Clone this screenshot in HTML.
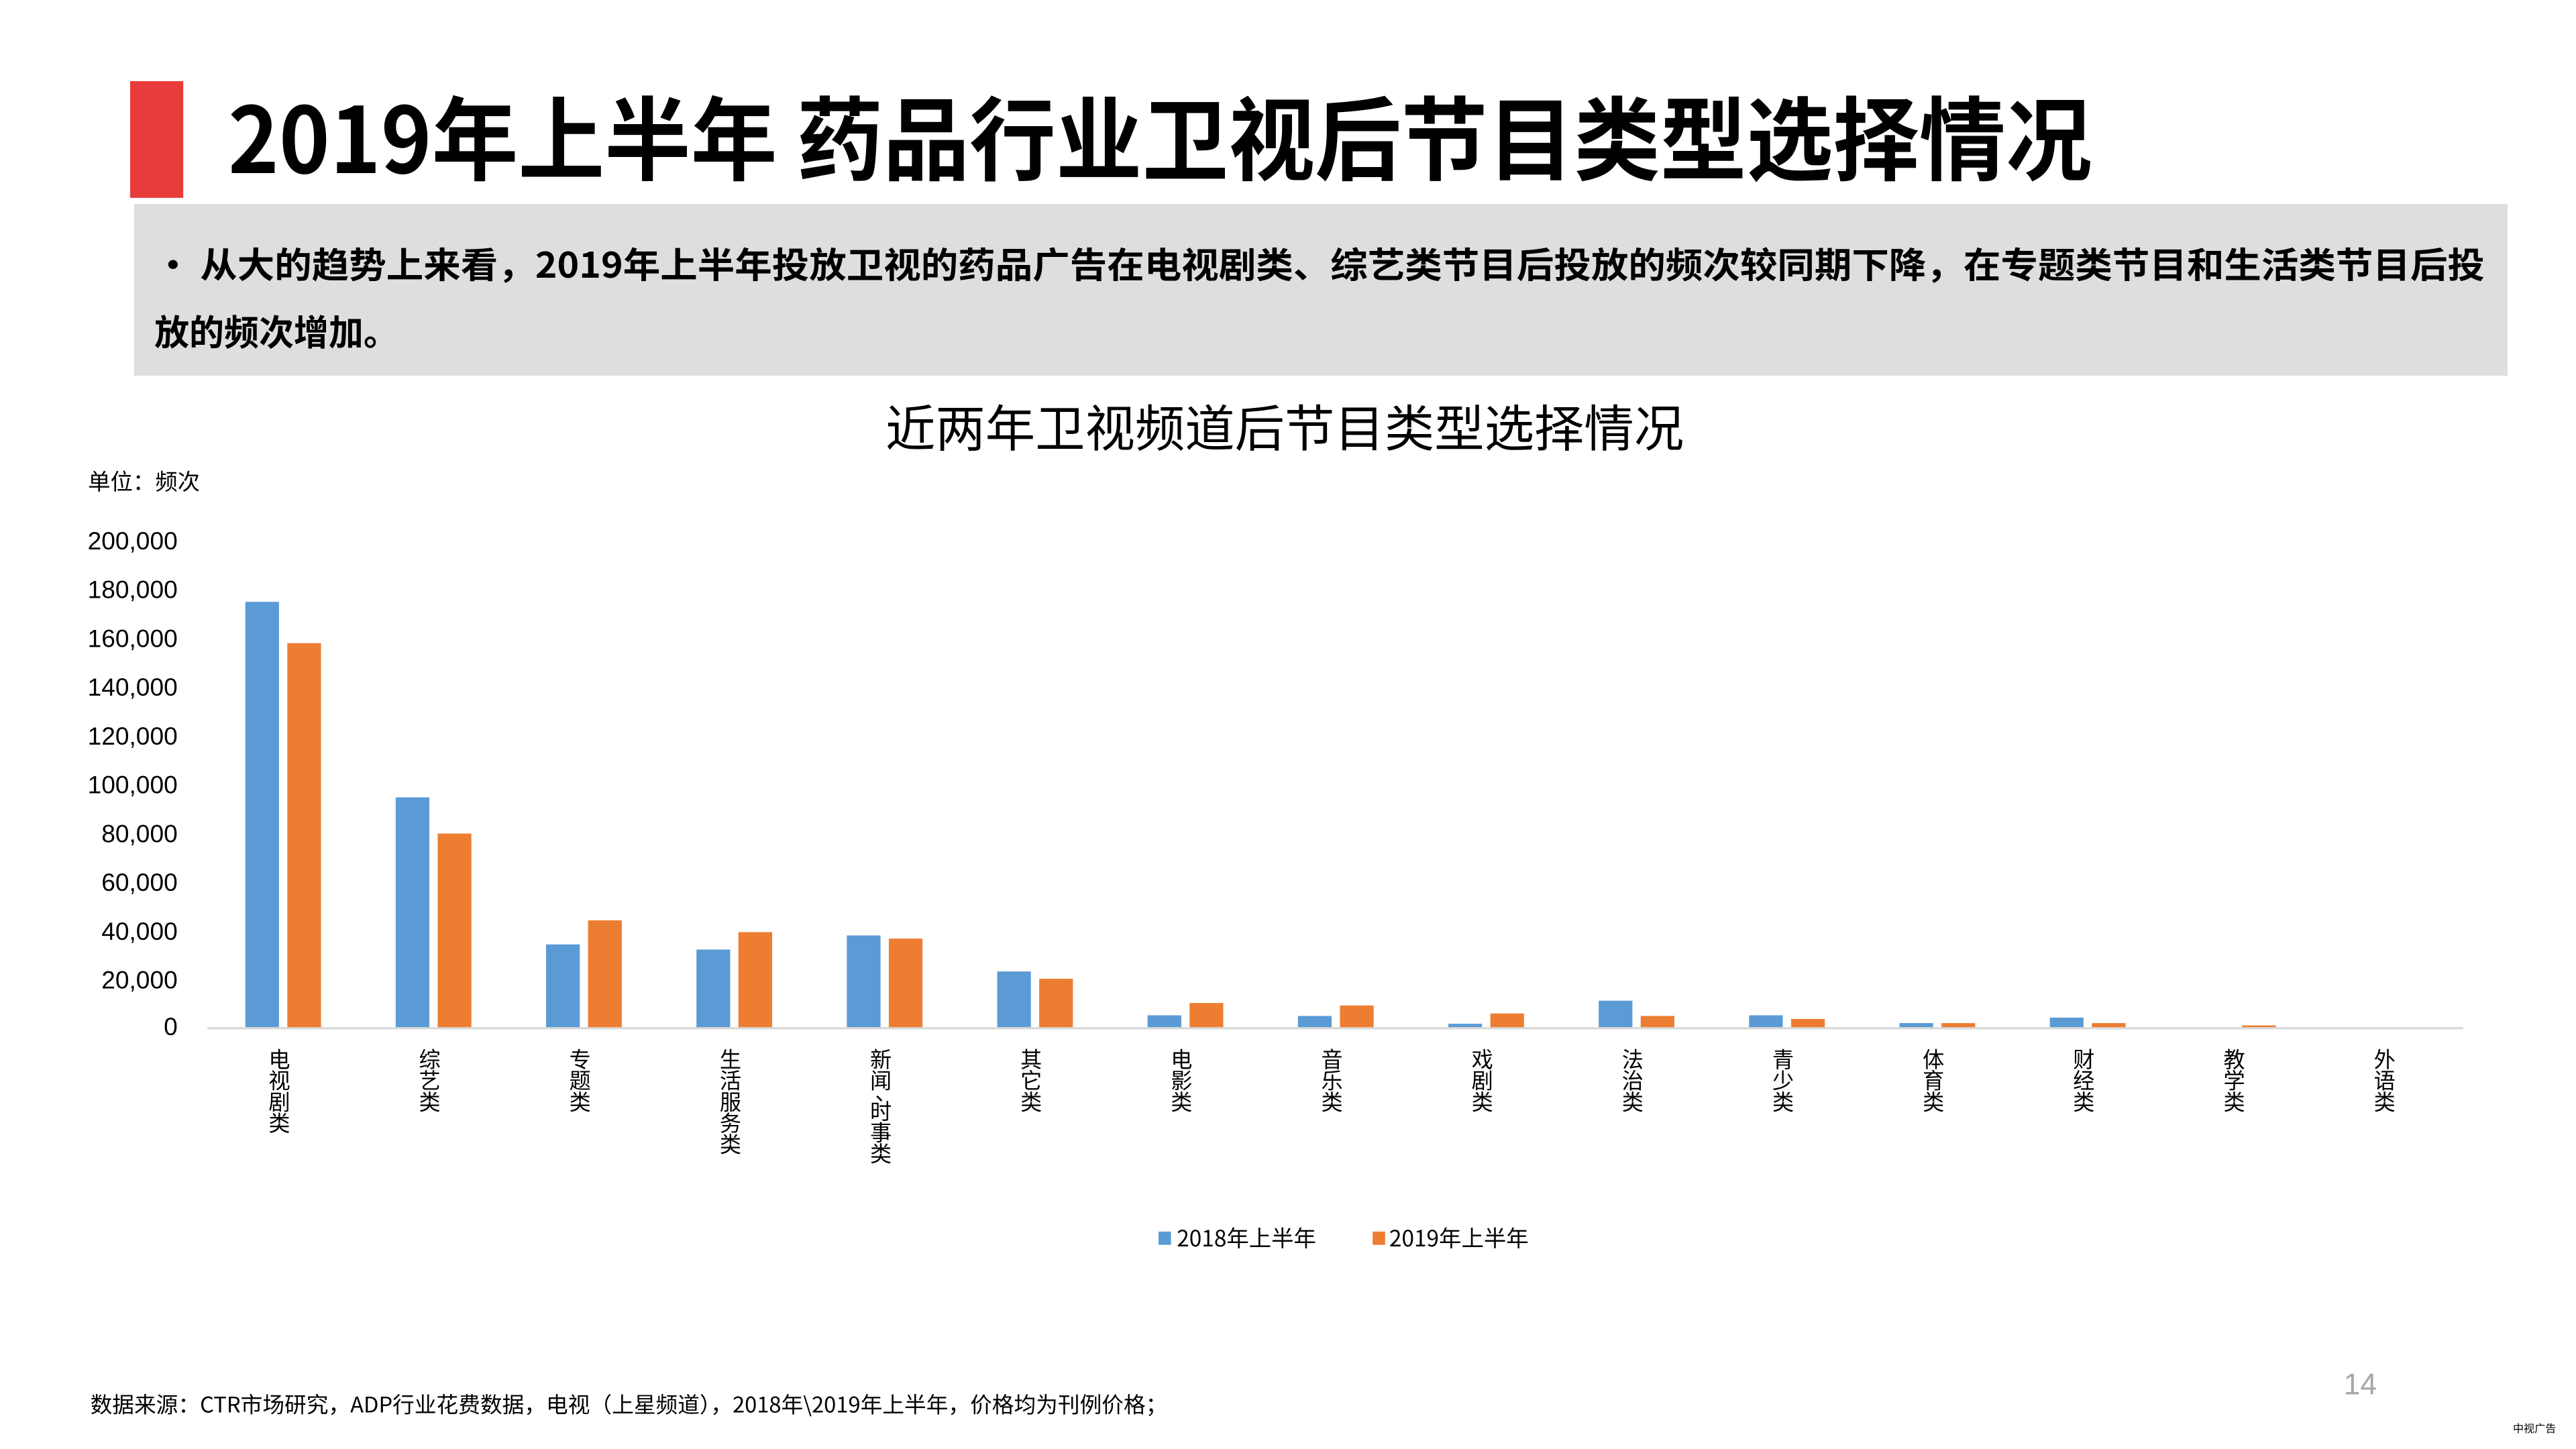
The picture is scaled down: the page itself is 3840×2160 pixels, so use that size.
<!DOCTYPE html>
<html><head><meta charset="utf-8"><style>
html,body{margin:0;padding:0;background:#fff;}
svg{display:block;}
text{font-family:"Liberation Sans","Noto Sans CJK SC",sans-serif;}
.cj{font-family:"Noto Sans CJK SC","Liberation Sans",sans-serif;}
</style></head><body>
<svg width="3840" height="2160" viewBox="0 0 1552 873" xmlns="http://www.w3.org/2000/svg">
<rect width="1552" height="873" fill="#fff"/>
<rect x="78.4" y="48.9" width="32" height="70.3" fill="#e83c3a"/>
<text class="cj" x="137.4" y="104.3" font-size="55" font-weight="bold" fill="#000" textLength="1123" lengthAdjust="spacingAndGlyphs">2019年上半年 药品行业卫视后节目类型选择情况</text>
<rect x="80.8" y="122.9" width="1430" height="103.5" fill="#dedede"/>
<text class="cj" x="93" y="167.3" font-size="21.3" font-weight="bold" fill="#000" textLength="1404" lengthAdjust="spacingAndGlyphs">• 从大的趋势上来看，2019年上半年投放卫视的药品广告在电视剧类、综艺类节目后投放的频次较同期下降，在专题类节目和生活类节目后投</text>
<text class="cj" x="93" y="208" font-size="21.3" font-weight="bold" fill="#000" textLength="147" lengthAdjust="spacingAndGlyphs">放的频次增加。</text>
<text class="cj" x="533.5" y="269" font-size="30" fill="#000" textLength="481" lengthAdjust="spacingAndGlyphs">近两年卫视频道后节目类型选择情况</text>
<text class="cj" x="53" y="295" font-size="13.5" fill="#000">单位：频次</text>
<g font-size="15" fill="#000" text-anchor="end">
<text x="107" y="331">200,000</text>
<text x="107" y="360.4">180,000</text>
<text x="107" y="389.8">160,000</text>
<text x="107" y="419.2">140,000</text>
<text x="107" y="448.6">120,000</text>
<text x="107" y="478">100,000</text>
<text x="107" y="507.4">80,000</text>
<text x="107" y="536.8">60,000</text>
<text x="107" y="566.2">40,000</text>
<text x="107" y="595.6">20,000</text>
<text x="107" y="623.7">0</text>
</g>
<g fill="#5b9bd5">
<rect x="147.8" y="362.6" width="20.3" height="256.4"/>
<rect x="238.4" y="480.4" width="20.3" height="138.6"/>
<rect x="329" y="569" width="20.3" height="50"/>
<rect x="419.6" y="572.1" width="20.3" height="46.9"/>
<rect x="510.2" y="563.6" width="20.3" height="55.4"/>
<rect x="600.8" y="585.3" width="20.3" height="33.7"/>
<rect x="691.4" y="611.7" width="20.3" height="7.3"/>
<rect x="782" y="612.1" width="20.3" height="6.9"/>
<rect x="872.6" y="616.8" width="20.3" height="2.2"/>
<rect x="963.2" y="602.9" width="20.3" height="16.1"/>
<rect x="1053.8" y="611.7" width="20.3" height="7.3"/>
<rect x="1144.4" y="616.4" width="20.3" height="2.6"/>
<rect x="1235" y="613.1" width="20.3" height="5.9"/>
</g>
<g fill="#ed7d31">
<rect x="173.1" y="387.5" width="20.3" height="231.5"/>
<rect x="263.7" y="502.2" width="20.3" height="116.8"/>
<rect x="354.3" y="554.5" width="20.3" height="64.5"/>
<rect x="444.9" y="561.6" width="20.3" height="57.4"/>
<rect x="535.5" y="565.5" width="20.3" height="53.5"/>
<rect x="626.1" y="589.7" width="20.3" height="29.3"/>
<rect x="716.7" y="604.3" width="20.3" height="14.7"/>
<rect x="807.3" y="605.8" width="20.3" height="13.2"/>
<rect x="897.9" y="610.6" width="20.3" height="8.4"/>
<rect x="988.5" y="612.1" width="20.3" height="6.9"/>
<rect x="1079.1" y="613.9" width="20.3" height="5.1"/>
<rect x="1169.7" y="616.4" width="20.3" height="2.6"/>
<rect x="1260.3" y="616.4" width="20.3" height="2.6"/>
<rect x="1350.9" y="617.8" width="20.3" height="1.2"/>
</g>
<line x1="125" y1="619.5" x2="1484" y2="619.5" stroke="#d9d9d9" stroke-width="1.3"/>
<g class="cj" font-size="13" fill="#000" text-anchor="middle">
<text x="168.3" y="643"><tspan x="168.3">电</tspan><tspan x="168.3" dy="12.8">视</tspan><tspan x="168.3" dy="12.8">剧</tspan><tspan x="168.3" dy="12.8">类</tspan></text>
<text x="258.9" y="643"><tspan x="258.9">综</tspan><tspan x="258.9" dy="12.8">艺</tspan><tspan x="258.9" dy="12.8">类</tspan></text>
<text x="349.5" y="643"><tspan x="349.5">专</tspan><tspan x="349.5" dy="12.8">题</tspan><tspan x="349.5" dy="12.8">类</tspan></text>
<text x="440.1" y="643"><tspan x="440.1">生</tspan><tspan x="440.1" dy="12.8">活</tspan><tspan x="440.1" dy="12.8">服</tspan><tspan x="440.1" dy="12.8">务</tspan><tspan x="440.1" dy="12.8">类</tspan></text>
<text x="530.7" y="643"><tspan x="530.7">新</tspan><tspan x="530.7" dy="12.8">闻</tspan><tspan x="533.7" dy="7">、</tspan><tspan x="530.7" dy="11.5">时</tspan><tspan x="530.7" dy="12.8">事</tspan><tspan x="530.7" dy="12.8">类</tspan></text>
<text x="621.3" y="643"><tspan x="621.3">其</tspan><tspan x="621.3" dy="12.8">它</tspan><tspan x="621.3" dy="12.8">类</tspan></text>
<text x="711.9" y="643"><tspan x="711.9">电</tspan><tspan x="711.9" dy="12.8">影</tspan><tspan x="711.9" dy="12.8">类</tspan></text>
<text x="802.5" y="643"><tspan x="802.5">音</tspan><tspan x="802.5" dy="12.8">乐</tspan><tspan x="802.5" dy="12.8">类</tspan></text>
<text x="893.1" y="643"><tspan x="893.1">戏</tspan><tspan x="893.1" dy="12.8">剧</tspan><tspan x="893.1" dy="12.8">类</tspan></text>
<text x="983.7" y="643"><tspan x="983.7">法</tspan><tspan x="983.7" dy="12.8">治</tspan><tspan x="983.7" dy="12.8">类</tspan></text>
<text x="1074.3" y="643"><tspan x="1074.3">青</tspan><tspan x="1074.3" dy="12.8">少</tspan><tspan x="1074.3" dy="12.8">类</tspan></text>
<text x="1164.9" y="643"><tspan x="1164.9">体</tspan><tspan x="1164.9" dy="12.8">育</tspan><tspan x="1164.9" dy="12.8">类</tspan></text>
<text x="1255.5" y="643"><tspan x="1255.5">财</tspan><tspan x="1255.5" dy="12.8">经</tspan><tspan x="1255.5" dy="12.8">类</tspan></text>
<text x="1346.1" y="643"><tspan x="1346.1">教</tspan><tspan x="1346.1" dy="12.8">学</tspan><tspan x="1346.1" dy="12.8">类</tspan></text>
<text x="1436.7" y="643"><tspan x="1436.7">外</tspan><tspan x="1436.7" dy="12.8">语</tspan><tspan x="1436.7" dy="12.8">类</tspan></text>
</g>
<rect x="698" y="742" width="7.5" height="8" fill="#5b9bd5"/>
<text class="cj" x="709" y="751" font-size="13.5" fill="#000">2018年上半年</text>
<rect x="827" y="742" width="7.5" height="8" fill="#ed7d31"/>
<text class="cj" x="837" y="751" font-size="13.5" fill="#000">2019年上半年</text>
<text x="1422" y="840" font-size="18" fill="#a6a6a6" text-anchor="middle">14</text>
<text class="cj" x="54.4" y="851" font-size="13" fill="#000" textLength="649" lengthAdjust="spacingAndGlyphs">数据来源：CTR市场研究，ADP行业花费数据，电视（上星频道），2018年\2019年上半年，价格均为刊例价格；</text>
<text class="cj" x="1514" y="863" font-size="6.5" fill="#000">中视广告</text>
</svg>
</body></html>
